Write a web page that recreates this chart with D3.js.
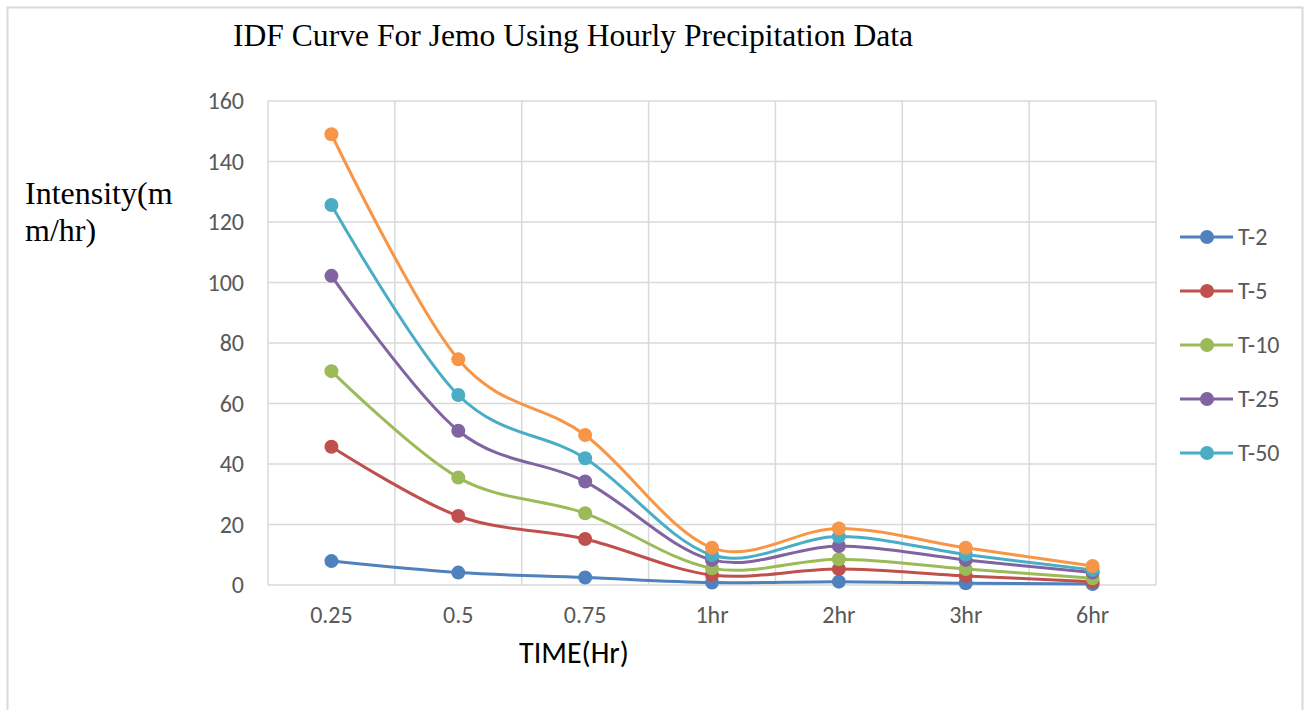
<!DOCTYPE html>
<html>
<head>
<meta charset="utf-8">
<script src="https://cdn.jsdelivr.net/npm/d3@7"></script>
<style>
  body { margin: 0; background: #fff; }
  svg { display: block; }
</style>
</head>
<body>
<div id="chart"></div>
<script>
// values
var durations = ["0.25", "0.5", "0.75", "1hr", "2hr", "3hr", "6hr"];
var seriesNames = ["T-2", "T-5", "T-10", "T-25", "T-50", "T-100"];
var t2 = [7.9, 4.1, 2.5, 0.8, 1.1, 0.6, 0.3];
var t5 = [45.7, 22.8, 15.2, 3.3, 5.3, 3.0, 1.1];
var t10 = [70.7, 35.5, 23.7, 5.5, 8.5, 5.3, 2.2];
var t25 = [102.2, 51.0, 34.2, 8.3, 12.9, 8.3, 4.1];
var t50 = [125.6, 62.8, 41.9, 9.9, 16.0, 10.1, 5.0];
var t100 = [149.0, 74.6, 49.6, 12.3, 18.7, 12.3, 6.3];
var yTicks = [0, 20, 40, 60, 80, 100, 120, 140, 160];
var legendNames = ["T-2", "T-5", "T-10", "T-25", "T-50"];

var colors = ["#4f81bd", "#c0504d", "#9bbb59", "#8064a2", "#4bacc6", "#f79646"];
var allValues = [t2, t5, t10, t25, t50, t100];

var width = 1304, height = 710;
var plot = { left: 268, right: 1156, top: 101, bottom: 585 };
var sans = "Carlito, Calibri, 'Open Sans', sans-serif";
var serif = "'Liberation Serif', 'Times New Roman', serif";

var svg = d3.select("#chart").append("svg")
    .attr("width", width)
    .attr("height", height);

// outer frame
svg.append("rect")
    .attr("x", 7.5).attr("y", 7.5)
    .attr("width", 1295).attr("height", 720)
    .attr("fill", "none")
    .attr("stroke", "#d9d9d9")
    .attr("stroke-width", 2);

var x = d3.scaleBand()
    .domain(durations)
    .range([plot.left, plot.right]);

var y = d3.scaleLinear()
    .domain([0, 160])
    .range([plot.bottom, plot.top]);

// gridlines
svg.append("g").selectAll("line")
    .data(yTicks)
    .enter().append("line")
    .attr("x1", plot.left).attr("x2", plot.right)
    .attr("y1", function (d) { return y(d); })
    .attr("y2", function (d) { return y(d); })
    .attr("stroke", "#d9d9d9")
    .attr("stroke-width", 1.5);

var bounds = durations.map(function (d) { return x(d); }).concat([plot.right]);
svg.append("g").selectAll("line")
    .data(bounds)
    .enter().append("line")
    .attr("x1", function (d) { return d; })
    .attr("x2", function (d) { return d; })
    .attr("y1", plot.top).attr("y2", plot.bottom)
    .attr("stroke", "#d9d9d9")
    .attr("stroke-width", 1.5);

// y axis labels
var yAxis = d3.axisLeft(y).tickValues(yTicks).tickSize(0).tickPadding(24);
var gy = svg.append("g")
    .attr("transform", "translate(" + plot.left + ",0)")
    .call(yAxis);
gy.select(".domain").remove();
gy.selectAll("text")
    .attr("font-family", sans)
    .attr("font-size", 24)
    .attr("fill", "#595959");

// x axis labels
var xAxis = d3.axisBottom(x).tickSize(0).tickPadding(21);
var gx = svg.append("g")
    .attr("transform", "translate(0," + plot.bottom + ")")
    .call(xAxis);
gx.select(".domain").remove();
gx.selectAll("text")
    .attr("font-family", sans)
    .attr("font-size", 24)
    .attr("fill", "#595959");

// series lines
var line = d3.line()
    .x(function (d, i) { return x(durations[i]) + x.bandwidth() / 2; })
    .y(function (d) { return y(d); })
    .curve(d3.curveCatmullRom.alpha(0));

allValues.forEach(function (vals, k) {
    var g = svg.append("g").attr("class", "series " + seriesNames[k]);
    g.append("path")
        .datum(vals)
        .attr("d", line)
        .attr("fill", "none")
        .attr("stroke", colors[k])
        .attr("stroke-width", 3);
    g.selectAll("circle")
        .data(vals)
        .enter().append("circle")
        .attr("cx", function (d, i) { return x(durations[i]) + x.bandwidth() / 2; })
        .attr("cy", function (d) { return y(d); })
        .attr("r", 7)
        .attr("fill", colors[k]);
});

// title
svg.append("text")
    .attr("x", 573).attr("y", 46)
    .attr("text-anchor", "middle")
    .attr("font-family", serif)
    .attr("font-size", 31.6)
    .attr("fill", "#000")
    .text("IDF Curve For Jemo Using Hourly Precipitation Data");

// y title (wrapped like the original)
var yt = svg.append("text")
    .attr("font-family", serif)
    .attr("font-size", 32)
    .attr("fill", "#000");
yt.append("tspan").attr("x", 25).attr("y", 204).text("Intensity(m");
yt.append("tspan").attr("x", 25).attr("y", 241).text("m/hr)");

// x title
svg.append("text")
    .attr("x", 574).attr("y", 663)
    .attr("text-anchor", "middle")
    .attr("font-family", sans)
    .attr("font-size", 30)
    .attr("fill", "#000")
    .text("TIME(Hr)");

// legend
var legend = svg.append("g");
legendNames.forEach(function (name, i) {
    var ly = 237 + i * 54;
    var item = legend.append("g");
    item.append("line")
        .attr("x1", 1180).attr("x2", 1233)
        .attr("y1", ly).attr("y2", ly)
        .attr("stroke", colors[i])
        .attr("stroke-width", 3);
    item.append("circle")
        .attr("cx", 1207).attr("cy", ly)
        .attr("r", 7)
        .attr("fill", colors[i]);
    item.append("text")
        .attr("x", 1238).attr("y", ly + 8)
        .attr("font-family", sans)
        .attr("font-size", 24)
        .attr("fill", "#595959")
        .text(name);
});
</script>
</body>
</html>
